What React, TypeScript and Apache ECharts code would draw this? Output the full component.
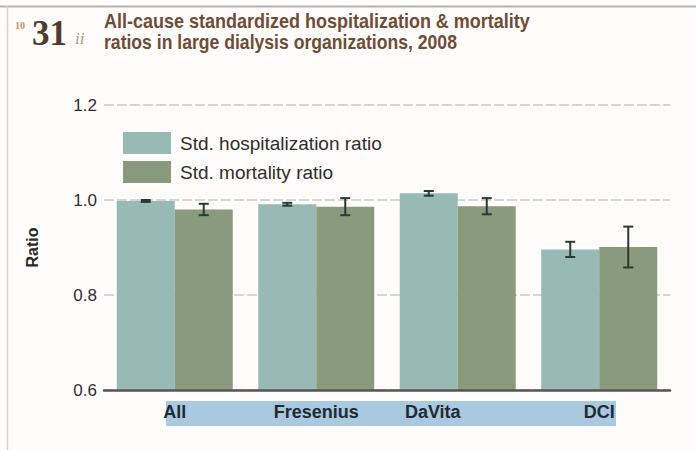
import React, { useEffect, useRef } from "react";
import * as echarts from "echarts";

const categories = ["All", "Fresenius", "DaVita", "DCI"];
const seriesNames = ["Std. hospitalization ratio", "Std. mortality ratio"];
const hospRatio = [0.998, 0.991, 1.014, 0.896];
const hospErr = [0.002, 0.003, 0.005, 0.016];
const mortRatio = [0.980, 0.986, 0.987, 0.901];
const mortErr = [0.012, 0.018, 0.017, 0.043];
const yTicks = { min: 0.6, max: 1.2, interval: 0.2 };
const titleLines = [
  "All-cause standardized hospitalization & mortality",
  "ratios in large dialysis organizations, 2008",
];

const HOSP_COLOR = "#98bab5";
const MORT_COLOR = "#8a9b7d";
const CAT_GAP = 0.18;
const SANS = "'Liberation Sans', Arial, sans-serif";
const TITLE_FONT = "bold 20px " + SANS;
const TITLE_WIDTHS = [426, 353];

function measure(text: string, font: string): number {
  const ctx = document.createElement("canvas").getContext("2d");
  if (!ctx) return 0;
  ctx.font = font;
  return ctx.measureText(text).width;
}

function errorSeries(vals: number[], errs: number[], side: number) {
  return {
    type: "custom",
    z: 5,
    silent: true,
    data: vals.map((v, i) => [i, v - errs[i], v + errs[i]]),
    renderItem: (params: any, api: any) => {
      const c = api.value(0);
      const lo = api.coord([c, api.value(1)]);
      const hi = api.coord([c, api.value(2)]);
      const band = api.size([1, 0])[0];
      const bw = (band * (1 - CAT_GAP)) / 2;
      const x = lo[0] + (side * bw) / 2;
      const cap = 5;
      const style = { stroke: "#2b3a30", lineWidth: 2 };
      return {
        type: "group",
        children: [
          { type: "line", shape: { x1: x, y1: lo[1], x2: x, y2: hi[1] }, style },
          { type: "line", shape: { x1: x - cap, y1: lo[1], x2: x + cap, y2: lo[1] }, style },
          { type: "line", shape: { x1: x - cap, y1: hi[1], x2: x + cap, y2: hi[1] }, style },
        ],
      };
    },
  };
}

export default function App() {
  const ref = useRef<HTMLDivElement>(null);
  useEffect(() => {
    if (!ref.current) return;
    const chart = echarts.init(ref.current, null, { renderer: "svg" });
    const titleScale = titleLines.map((t, i) => {
      const w = measure(t, TITLE_FONT);
      return w > 0 ? TITLE_WIDTHS[i] / w : 0.9;
    });
    chart.setOption({
      animation: false,
      backgroundColor: "#fffdfb",
      grid: { left: 104, right: 26, top: 105, bottom: 60 },
      legend: {
        data: seriesNames,
        orient: "vertical",
        left: 118,
        top: 127,
        itemWidth: 48,
        itemHeight: 22,
        itemGap: 7,
        icon: "rect",
        textStyle: { fontSize: 19, color: "#2e2e2e", padding: [0, 0, 0, 4], fontFamily: SANS },
      },
      xAxis: {
        type: "category",
        data: categories,
        z: 10,
        axisTick: { show: false },
        axisLine: { lineStyle: { color: "#555", width: 2.5 } },
        axisLabel: {
          interval: 0,
          margin: 13,
          fontSize: 18,
          fontWeight: "bold",
          fontFamily: SANS,
          color: "#1f2a33",
          formatter: (v: string) => (v === "DaVita" ? "{d|" + v + "}" : v),
          rich: {
            d: { fontSize: 18, fontWeight: "bold", fontFamily: SANS, color: "#1f2a33", padding: [0, 50, 0, 0] },
          },
        },
      },
      yAxis: {
        type: "value",
        min: yTicks.min,
        max: yTicks.max,
        interval: yTicks.interval,
        name: "Ratio",
        nameLocation: "middle",
        nameRotate: 90,
        nameGap: 64,
        nameTextStyle: { fontSize: 16, fontWeight: "bold", color: "#2a2a2a", fontFamily: SANS },
        axisLine: { show: false },
        axisTick: { show: false },
        axisLabel: {
          margin: 7,
          fontSize: 17,
          color: "#2e2e2e",
          fontFamily: SANS,
          formatter: (v: number) => v.toFixed(1),
        },
        splitLine: { lineStyle: { color: "#c9c9c9", width: 1.5, type: [10, 3] } },
      },
      series: [
        {
          name: seriesNames[0],
          type: "bar",
          data: hospRatio,
          itemStyle: { color: HOSP_COLOR },
          barGap: "0%",
          barCategoryGap: CAT_GAP * 100 + "%",
        },
        {
          name: seriesNames[1],
          type: "bar",
          data: mortRatio,
          itemStyle: { color: MORT_COLOR },
          barGap: "0%",
          barCategoryGap: CAT_GAP * 100 + "%",
        },
        errorSeries(hospRatio, hospErr, -1),
        errorSeries(mortRatio, mortErr, 1),
      ],
      graphic: [
        { type: "line", shape: { x1: 0, y1: 6.5, x2: 696, y2: 6.5 }, style: { stroke: "#b3b3b3", lineWidth: 2 } },
        { type: "line", shape: { x1: 7.5, y1: 6, x2: 7.5, y2: 450 }, style: { stroke: "#d2d2d2", lineWidth: 1.5 } },
        { type: "rect", z: -1, shape: { x: 166, y: 401, width: 450, height: 25 }, style: { fill: "#a9c9de" } },
        {
          type: "text",
          x: 15,
          y: 25,
          style: { text: "10", font: "bold 10px 'Liberation Serif', serif", fill: "#c8925a", textVerticalAlign: "middle" },
        },
        {
          type: "text",
          x: 32,
          y: 33,
          style: { text: "31", font: "bold 35px 'Liberation Serif', serif", fill: "#4f3a2d", textVerticalAlign: "middle" },
        },
        {
          type: "text",
          x: 75,
          y: 38,
          style: { text: "ii", font: "italic 17px 'Liberation Serif', serif", fill: "#a59890", textVerticalAlign: "middle" },
        },
        {
          type: "text",
          x: 104,
          y: 21,
          scaleX: titleScale[0],
          style: { text: titleLines[0], font: TITLE_FONT, fill: "#6f4c36", textVerticalAlign: "middle" },
        },
        {
          type: "text",
          x: 104,
          y: 42,
          scaleX: titleScale[1],
          style: { text: titleLines[1], font: TITLE_FONT, fill: "#6f4c36", textVerticalAlign: "middle" },
        },
      ],
    });
    return () => chart.dispose();
  }, []);
  return <div ref={ref} style={{ position: "fixed", left: 0, top: 0, width: 696, height: 450 }} />;
}
